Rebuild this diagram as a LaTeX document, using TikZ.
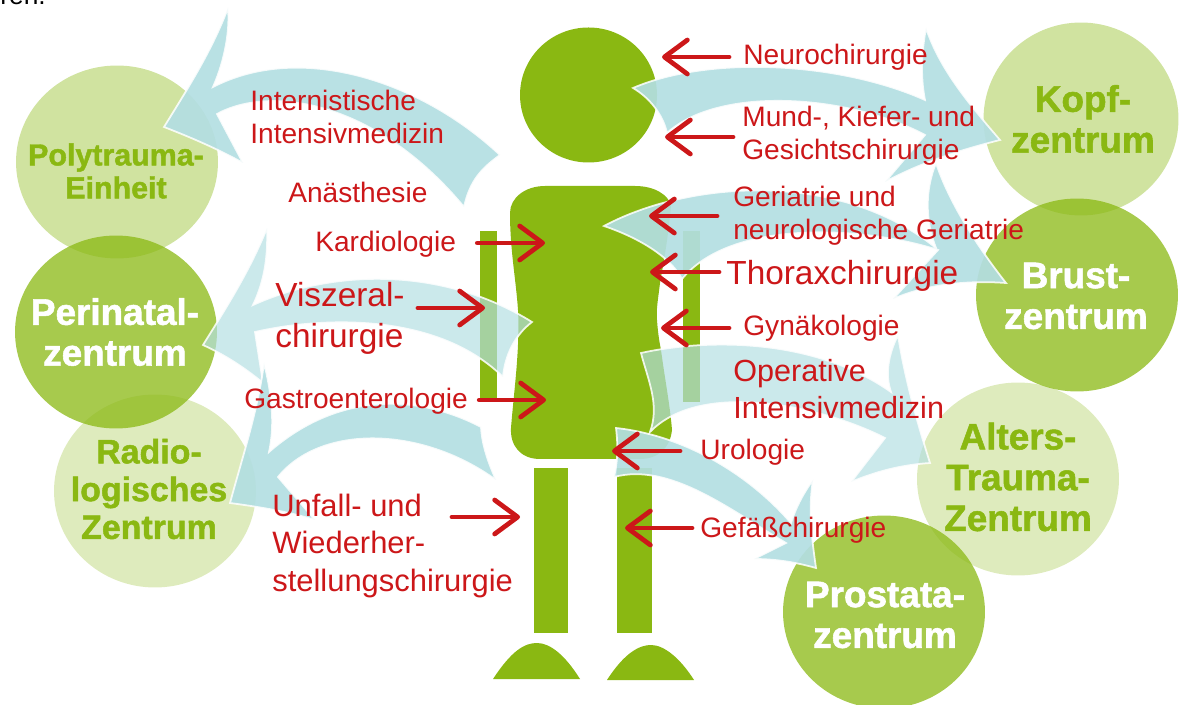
\documentclass[tikz,border=0pt]{standalone}
\usepackage{fontspec}
\setmainfont{Liberation Sans}
\newfontfamily\heavyfont[FakeBold=1.5]{Liberation Sans Bold}
\usetikzlibrary{arrows.meta,calc,shapes.geometric}
\definecolor{bodygreen}{HTML}{8AB812}
\definecolor{ribbonblue}{HTML}{B3DEE2}
\definecolor{labelred}{HTML}{CC1719}
\begin{document}
\begin{tikzpicture}[x=0.02cm,y=-0.02cm]
    \tikzset{
        zone/.style={ellipse, fill=bodygreen, inner sep=0pt, minimum width=4.04cm, minimum height=3.86cm},
        zonelight/.style={zone, fill opacity=0.4},
        zonepale/.style={zone, fill opacity=0.28},
        zonemid/.style={zone, fill opacity=0.75},
        zonetext/.style={inner sep=0pt, align=center, text=bodygreen, font=\heavyfont\fontsize{21}{23.2}\selectfont},
        zonewhite/.style={zonetext, text=white},
        ribbon/.style={fill=ribbonblue, fill opacity=0.92, draw=white, draw opacity=0.85, line width=1pt, line join=miter},
        ribbonpale/.style={ribbon, fill opacity=0.68},
        lbl/.style={anchor=west, inner sep=0pt, align=left, text=labelred, font=\fontsize{16}{18.6}\selectfont},
        lblbig/.style={lbl, font=\fontsize{19}{23.2}\selectfont},
        redarrow/.style={-{Straight Barb[round,length=4.6mm,width=6.8mm]}, draw=labelred, line width=2.7pt, line cap=round}
    }
    \useasboundingbox (0,0) rectangle (1180,705);
    \clip (0,0) rectangle (1180,705);
    \node[anchor=base west, inner sep=0pt, font=\fontsize{15}{18}\selectfont] (rest) at (0,5) {ren.};

    \node[zonelight] (poly) at (117,162) {};
    \node[zonemid] (peri) at (116,332) {};
    \node[zonepale] (radio) at (155,491) {};
    \node[zonelight, minimum width=3.9cm] (kopf) at (1081,119) {};
    \node[zonemid] (brust) at (1077,295) {};
    \node[zonepale] (alters) at (1018,479) {};
    \node[zonemid] (prostata) at (884,612) {};
    \node[zonetext, font=\heavyfont\fontsize{17.3}{18.7}\selectfont] (polytext) at (116,171) {Polytrauma-\\Einheit};
    \node[zonewhite] (peritext) at (115,332) {Perinatal-\\zentrum};
    \node[zonetext, font=\heavyfont\fontsize{19.3}{21.5}\selectfont] (radiotext) at (149,489) {Radio-\\logisches\\Zentrum};
    \node[zonetext] (kopftext) at (1083,119) {Kopf-\\zentrum};
    \node[zonewhite] (brusttext) at (1076,296) {Brust-\\zentrum};
    \node[zonetext] (alterstext) at (1018,477) {Alters-\\Trauma-\\Zentrum};
    \node[zonewhite] (prostatatext) at (885,615) {Prostata-\\zentrum};

    \fill[bodygreen] (588.5,95) ellipse [x radius=68.5, y radius=67.5];
    \fill[bodygreen] (480,231) rectangle (497,398);
    \fill[bodygreen] (683,231) rectangle (700,402);
    \fill[bodygreen] (534,468) rectangle (568,633);
    \fill[bodygreen] (617,468) rectangle (652,633);
    \fill[bodygreen] (493,679) .. controls (512,650) and (525,643) .. (537,643) .. controls (550,643) and (565,655) .. (580,679) -- cycle;
    \fill[bodygreen] (607,680) .. controls (625,652) and (640,645) .. (651,645) .. controls (664,645) and (680,658) .. (694,680) -- cycle;
    \fill[bodygreen] (545,186) -- (635,186) .. controls (655,186) and (668,195) .. (671,205)
        .. controls (668,240) and (663,265) .. (660,283) .. controls (658,300) and (656,310) .. (657,320)
        .. controls (658,335) and (660,345) .. (661,350) .. controls (665,380) and (670,405) .. (672,430)
        .. controls (670,448) and (658,459) .. (640,459) -- (540,459)
        .. controls (520,459) and (510,445) .. (511,428) .. controls (514,390) and (520,350) .. (518,310)
        .. controls (516,280) and (510,250) .. (510,213) .. controls (510,198) and (525,186) .. (545,186) -- cycle;

    \path[ribbon] (500,155) .. controls (420,80) and (300,42) .. (213,87)
        .. controls (225,60) and (230,30) .. (228,8) .. controls (212,50) and (190,85) .. (164,127)
        .. controls (190,137) and (220,150) .. (243,163) -- (217,114)
        .. controls (270,85) and (375,100) .. (464,207) .. controls (470,180) and (482,168) .. (500,155) -- cycle;
    \path[ribbonpale] (532,322) .. controls (440,265) and (330,270) .. (253,305)
        .. controls (265,280) and (268,255) .. (267,228) .. controls (250,270) and (228,305) .. (203,345)
        .. controls (225,355) and (245,368) .. (263,383) -- (255,332)
        .. controls (330,315) and (440,315) .. (503,377) .. controls (505,355) and (515,335) .. (532,322) -- cycle;
    \path[ribbon] (481,427) .. controls (420,395) and (340,390) .. (269,452)
        .. controls (275,425) and (272,395) .. (264,363) .. controls (258,410) and (243,455) .. (230,503)
        .. controls (260,507) and (290,512) .. (315,520) -- (278,477)
        .. controls (320,425) and (420,425) .. (496,480) .. controls (488,462) and (482,445) .. (481,427) -- cycle;
    \path[ribbon] (633,88) .. controls (710,55) and (840,62) .. (925,100)
        .. controls (920,75) and (922,50) .. (926,28) .. controls (940,70) and (970,105) .. (1000,140)
        .. controls (960,150) and (920,163) .. (885,182) -- (925,135)
        .. controls (850,95) and (720,85) .. (667,133) .. controls (663,115) and (650,98) .. (633,88) -- cycle;
    \path[ribbon] (604,226) .. controls (690,180) and (840,170) .. (936,248)
        .. controls (925,220) and (925,190) .. (936,163) .. controls (950,205) and (980,250) .. (1006,283)
        .. controls (965,280) and (925,285) .. (893,299) -- (938,250)
        .. controls (860,225) and (730,220) .. (682,279) .. controls (672,260) and (645,240) .. (604,226) -- cycle;
    \path[ribbonpale] (641,353) .. controls (700,340) and (810,335) .. (891,392)
        .. controls (885,375) and (888,355) .. (898,335) .. controls (905,380) and (918,425) .. (930,463)
        .. controls (900,465) and (875,472) .. (851,482) -- (885,438)
        .. controls (820,405) and (700,380) .. (650,432) .. controls (660,405) and (648,380) .. (641,353) -- cycle;
    \path[ribbon] (616,428) .. controls (680,435) and (745,470) .. (791,523)
        .. controls (795,510) and (802,495) .. (813,480) .. controls (808,510) and (812,540) .. (816,568)
        .. controls (795,562) and (775,559) .. (754,559) -- (786,543)
        .. controls (730,510) and (670,462) .. (614,477) .. controls (618,460) and (618,445) .. (616,428) -- cycle;

    \node[lbl] (inter) at (250,117) {Internistische\\Intensivmedizin};
    \node[lbl] (anae) at (288,192) {Anästhesie};
    \node[lbl] (kardio) at (315,244) {Kardiologie};
    \node[lblbig] (viszeral) at (275,318) {Viszeral-\\chirurgie};
    \node[lbl] (gastro) at (244,401) {Gastroenterologie};
    \node[lbl, font=\fontsize{17.6}{21.5}\selectfont] (unfall) at (272,546) {Unfall- und\\Wiederher-\\stellungschirurgie};
    \node[lbl] (neuro) at (743,57) {Neurochirurgie};
    \node[lbl] (mund) at (742,136) {Mund-, Kiefer- und\\Gesichtschirurgie};
    \node[lbl] (geria) at (733,216) {Geriatrie und\\neurologische Geriatrie};
    \node[lblbig] (thorax) at (726,276) {Thoraxchirurgie};
    \node[lbl] (gyn) at (743,328) {Gynäkologie};
    \node[lbl, font=\fontsize{17.4}{21}\selectfont] (opint) at (733,389) {Operative\\Intensivmedizin};
    \node[lbl] (uro) at (700,452) {Urologie};
    \node[lbl] (gefaess) at (700,530) {Gefäßchirurgie};

    \coordinate (kardiotip) at (545,243);
    \coordinate (viszeraltip) at (485,308);
    \coordinate (gastrotip) at (546,400);
    \coordinate (unfalltip) at (520,517);
    \coordinate (neurotip) at (662,57);
    \coordinate (mundtip) at (665,137);
    \coordinate (geriatip) at (649,216);
    \coordinate (thoraxtip) at (650,272);
    \coordinate (gyntip) at (661,328);
    \coordinate (urotip) at (612,451);
    \coordinate (gefaesstip) at (625,528);
    \draw[redarrow] ($(kardio.east)+(21,-1)$) -- (kardiotip);
    \draw[redarrow] ($(viszeral.east)+(13,-10)$) -- (viszeraltip);
    \draw[redarrow] ($(gastro.east)+(11,-1)$) -- (gastrotip);
    \draw[redarrow] ($(unfall.west)+(180,-29)$) -- (unfalltip);
    \draw[redarrow] ($(neuro.west)+(-14,0)$) -- (neurotip);
    \draw[redarrow] ($(mund.west)+(-9,1)$) -- (mundtip);
    \draw[redarrow] ($(geria.west)+(-16,0)$) -- (geriatip);
    \draw[redarrow] ($(thorax.west)+(-7,-4)$) -- (thoraxtip);
    \draw[redarrow] ($(gyn.west)+(-14,0)$) -- (gyntip);
    \draw[redarrow] ($(uro.west)+(-20,-1)$) -- (urotip);
    \draw[redarrow] ($(gefaess.west)+(-8,-2)$) -- (gefaesstip);
\end{tikzpicture}
\end{document}
